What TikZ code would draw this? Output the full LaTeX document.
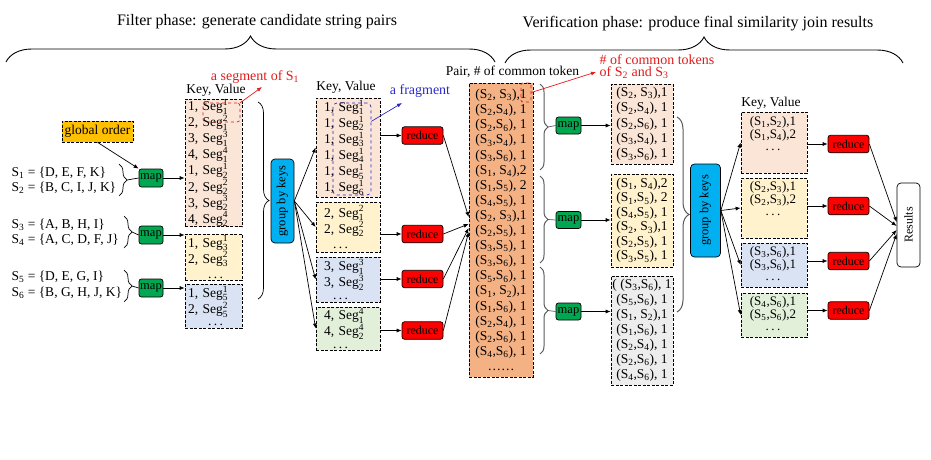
\documentclass[tikz,border=0pt]{standalone}
\usepackage{amsmath}
\usepackage{fontspec}
\setmainfont{Liberation Serif}
\usetikzlibrary{arrows.meta,decorations.pathreplacing}

\definecolor{peach}{HTML}{FBE5D6}
\definecolor{lyellow}{HTML}{FFF2CC}
\definecolor{lblue}{HTML}{DAE3F3}
\definecolor{lgreen}{HTML}{E2F0D9}
\definecolor{lgray}{HTML}{EDEDED}
\definecolor{pairorange}{HTML}{F4B183}
\definecolor{ordergold}{HTML}{FFC000}
\definecolor{mapgreen}{HTML}{00A650}
\definecolor{keyblue}{HTML}{00B0F0}
\definecolor{reducered}{HTML}{FF0000}
\definecolor{notered}{HTML}{E01B1B}
\definecolor{noteblue}{HTML}{2A2AC8}

\newcommand{\Sx}[1]{S\textsubscript{#1}}
\newcommand{\Sg}[2]{Seg$^{\text{#2}}_{\text{#1}}$}
\newcommand{\tdots}{.\hspace{2.5pt}.\hspace{2.5pt}.}

\begin{document}
\begin{tikzpicture}[x=1pt,y=-1pt,line width=0.7pt,>={Latex[length=5pt,width=4pt]},
	font=\fontsize{13.5}{15}\selectfont,
	kvbox/.style={draw,dash pattern=on 3pt off 1.5pt,inner sep=0pt},
	kvtxt/.style={inner sep=0pt,align=center,font=\fontsize{13}{12.5}\selectfont},
	mapbox/.style={draw,rounded corners=2.5pt,fill=mapgreen,inner sep=0pt,minimum width=24pt,minimum height=18pt,font=\fontsize{12.5}{14}\selectfont},
	reducebox/.style={draw,rounded corners=2.5pt,fill=reducered,inner sep=0pt,minimum width=41pt,minimum height=17.5pt,font=\fontsize{12}{14}\selectfont},
	keybox/.style={draw,rounded corners=4pt,fill=keyblue,inner sep=0pt,font=\fontsize{12.5}{14}\selectfont},
	brc/.style={decorate,decoration={brace,amplitude=#1}}]
	\useasboundingbox (0,0) rectangle (931,460);

	%%Phasen
	\node[font=\fontsize{16}{18}\selectfont] (filter) at (257,22) {Filter phase: generate candidate string pairs};
	\node[font=\fontsize{16}{18}\selectfont] (verif) at (698,24) {Verification phase: produce final similarity join results};
	\draw[brc=26pt,line width=0.9pt] (6,62) -- (495,62);
	\draw[brc=26pt,line width=0.9pt] (505,63) -- (903,63);

	%%Eingabe
	\node[anchor=west] (s1) at (8,173) {\Sx1 = \{D, E, F, K\}};
	\node[anchor=west] (s2) at (8,188) {\Sx2 = \{B, C, I, J, K\}};
	\node[anchor=west] (s3) at (8,225) {\Sx3 = \{A, B, H, I\}};
	\node[anchor=west] (s4) at (8,240) {\Sx4 = \{A, C, D, F, J\}};
	\node[anchor=west] (s5) at (8,277) {\Sx5 = \{D, E, G, I\}};
	\node[anchor=west] (s6) at (8,293) {\Sx6 = \{B, G, H, J, K\}};
	\draw[brc=8pt] (119,164) -- (119,196);
	\draw[brc=8pt] (124,216) -- (124,248);
	\draw[brc=8pt] (124,270) -- (124,302);
	\coordinate (b1) at (127,180);
	\coordinate (b2) at (132,232);
	\coordinate (b3) at (132,286);

	\node[kvbox,fill=ordergold,minimum width=71pt,minimum height=21pt] (gorder) at (97.5,131.5) {global order};

	%%Map 1
	\foreach \n/\y in {1/178,2/235,3/288}
		\node[mapbox] (map\n) at (151,\y) {map};
	\foreach \n in {1,2,3}
		\draw (b\n) -- (map\n.west);
	\draw[->] (gorder.south) -- (map1.north west);

	%%Key, Value 1
	\node (kvlab1) at (216,90) {Key, Value};
	\node[kvbox,fill=peach,text width=51pt,inner xsep=3pt,minimum height=124pt,align=left] (kv11) at (213.5,163)
		{1, \Sg11\\2, \Sg12\\3, \Sg13\\4, \Sg14\\1, \Sg21\\2, \Sg22\\3, \Sg23\\4, \Sg24};
	\node[kvbox,fill=lyellow,text width=51pt,inner xsep=3pt,minimum height=46pt,align=left] (kv12) at (213.5,257)
		{1, \Sg31\\2, \Sg32\\\hspace*{20pt}\tdots};
	\node[kvbox,fill=lblue,text width=51pt,inner xsep=3pt,minimum height=44pt,align=left,font=\fontsize{13.5}{12.5}\selectfont] (kv13) at (213.5,306)
		{1, \Sg51\\2, \Sg52\\\hspace*{20pt}\tdots};
	\draw[->] (map1.east) -- (kv11.west |- map1.east);
	\draw[->] (map2.east) -- (kv12.west |- map2.east);
	\draw[->] (map3.east) -- (kv13.west |- map3.east);

	\node[draw=notered,dashed,rounded corners=3pt,minimum width=37pt,minimum height=19pt,inner sep=0pt] (segbox) at (221.5,112.5) {};
	\node[notered,font=\fontsize{14}{16}\selectfont] (seglab) at (255,77) {a segment of \Sx1};
	\coordinate (segtip) at (262,87);
	\draw[notered,->] (segbox.north east) -- (segtip);

	%%Gruppierung 1
	\draw[brc=11pt] (258,102) -- (258,299);
	\node[keybox,minimum width=23pt,minimum height=84pt] (group1) at (282.5,201) {\rotatebox{90}{group by keys}};

	%%Key, Value 2
	\node (kvlab2) at (346,87) {Key, Value};
	\node[kvbox,fill=peach,text width=48pt,inner xsep=8pt,minimum height=99pt,align=left,font=\fontsize{13.5}{14.6}\selectfont] (kv21) at (348,147.5)
		{1, \Sg11\\1, \Sg21\\1, \Sg31\\1, \Sg41\\1, \Sg51\\1, \Sg61};
	\node[kvbox,fill=lyellow,text width=48pt,inner xsep=8pt,minimum height=50pt,align=left] (kv22) at (348,227)
		{2, \Sg12\\2, \Sg22\\\hspace*{9pt}\tdots};
	\node[kvbox,fill=lblue,text width=48pt,inner xsep=8pt,minimum height=45pt,align=left,font=\fontsize{13.5}{13}\selectfont] (kv23) at (348,279.5)
		{3, \Sg13\\3, \Sg23\\\hspace*{9pt}\tdots};
	\node[kvbox,fill=lgreen,text width=48pt,inner xsep=8pt,minimum height=43pt,align=left,font=\fontsize{13.5}{13}\selectfont] (kv24) at (348,328.5)
		{4, \Sg14\\4, \Sg24\\\hspace*{9pt}\tdots};
	\foreach \b in {kv21,kv22,kv23,kv24}
		\draw[->] (group1.east) -- (\b.west);

	\node[draw=noteblue,dashed,rounded corners=4pt,minimum width=38pt,minimum height=92pt,inner sep=0pt] (fragbox) at (352,149) {};
	\node[noteblue,font=\fontsize{14}{16}\selectfont] (fraglab) at (420,91) {a fragment};
	\coordinate (fragtip) at (402,103);
	\draw[noteblue,->] (fragbox.55) -- (fragtip);

	%%Reduce 1
	\foreach \n/\y in {1/135.5,2/234,3/279,4/330.5}
		\node[reducebox] (red\n) at (422.5,\y) {reduce};
	\foreach \b/\n in {kv21/1,kv22/2,kv23/3,kv24/4}
		\draw[->] (\b.east |- red\n.west) -- (red\n.west);

	%%Paare
	\node (pairlab) at (512.5,72) {Pair, \# of common token};
	\node[kvbox,fill=pairorange,minimum width=64pt,minimum height=294pt,align=center,font=\fontsize{13.5}{15.1}\selectfont] (pairs) at (501,230)
		{(\Sx2, \Sx3),1\\(\Sx2,\Sx4), 1\\(\Sx2,\Sx6), 1\\(\Sx3,\Sx4), 1\\(\Sx3,\Sx6), 1\\(\Sx1, \Sx4),2\\
		 (\Sx1,\Sx5), 2\\(\Sx4,\Sx5), 1\\(\Sx2, \Sx3),1\\(\Sx2,\Sx5), 1\\(\Sx3,\Sx5), 1\\(\Sx3,\Sx6), 1\\
		 (\Sx5,\Sx6), 1\\(\Sx1, \Sx2),1\\(\Sx1,\Sx6), 1\\(\Sx2,\Sx4), 1\\(\Sx2,\Sx6), 1\\(\Sx4,\Sx6), 1\\\ldots\ldots};
	\foreach \n/\s in {1/13,2/6,3/2,4/-2}
		\draw[->] (red\n.east) -- ([yshift=\s]pairs.west);

	\node[draw=notered,dashed,rounded corners=2pt,minimum width=10pt,minimum height=19pt,inner sep=0pt] (onebox) at (526,92.5) {};
	\node[notered,anchor=west,align=left,font=\fontsize{14}{11.5}\selectfont] (cntlab) at (596,66.5) {\# of common tokens\\of \Sx2 and \Sx3};
	\coordinate (cnttip) at (596,72);
	\draw[notered,->] (onebox.east) -- (cnttip);

	%%Map 2
	\draw[brc=8pt,black!65,line width=1pt] (540,84) -- (540,170);
	\draw[brc=8pt,black!65,line width=1pt] (540,176) -- (540,263);
	\draw[brc=8pt,black!65,line width=1pt] (540,267) -- (540,354);
	\coordinate (c1) at (548,127);
	\coordinate (c2) at (548,219.5);
	\coordinate (c3) at (548,310.5);
	\foreach \n/\y in {4/125.5,5/220,6/311.5}
		\node[mapbox,minimum width=25pt,minimum height=17pt] (map\n) at (568.5,\y) {map};
	\foreach \c/\n in {c1/4,c2/5,c3/6}
		\draw[black!65] (\c) -- (map\n.west);

	\node[kvbox,fill=peach,minimum width=62pt,minimum height=80pt,align=center,font=\fontsize{13.5}{15.3}\selectfont] (kvE) at (642,124)
		{(\Sx2, \Sx3),1\\(\Sx2,\Sx4), 1\\(\Sx2,\Sx6), 1\\(\Sx3,\Sx4), 1\\(\Sx3,\Sx6), 1};
	\node[kvbox,fill=lyellow,minimum width=62pt,minimum height=93pt,align=center,font=\fontsize{13.5}{14.5}\selectfont] (kvF) at (642,220.5)
		{(\Sx1, \Sx4),2\\(\Sx1,\Sx5), 2\\(\Sx4,\Sx5), 1\\(\Sx2, \Sx3),1\\(\Sx2,\Sx5), 1\\(\Sx3,\Sx5), 1};
	\node[kvbox,fill=lgray,minimum width=62pt,minimum height=109pt,align=center,font=\fontsize{13.5}{15}\selectfont] (kvG) at (642,330.5)
		{( (\Sx3,\Sx6), 1\\(\Sx5,\Sx6), 1\\(\Sx1, \Sx2),1\\(\Sx1,\Sx6), 1\\(\Sx2,\Sx4), 1\\(\Sx2,\Sx6), 1\\(\Sx4,\Sx6), 1};
	\draw[->] (map4.east) -- (kvE.west |- map4.east);
	\draw[->] (map5.east) -- (kvF.west |- map5.east);
	\draw[->] (map6.east) -- (kvG.west |- map6.east);

	%%Gruppierung 2
	\draw[brc=12pt,black!65,line width=1pt] (677,117) -- (677,312);
	\node[keybox,minimum width=30pt,minimum height=93pt] (group2) at (705.5,210.5) {\rotatebox{90}{group by keys}};

	%%Key, Value 3
	\node (kvlab3) at (771,103) {Key, Value};
	\node[kvbox,fill=peach,minimum width=66pt,minimum height=61pt] (kvH) at (774,142.5) {};
	\node[kvbox,fill=lyellow,minimum width=66pt,minimum height=60pt] (kvI) at (774,208) {};
	\node[kvbox,fill=lblue,minimum width=66pt,minimum height=44pt] (kvJ) at (774,265) {};
	\node[kvbox,fill=lgreen,minimum width=66pt,minimum height=44pt] (kvK) at (774,315) {};
	\node[kvtxt] (txtH) at (773,134) {(\Sx1,\Sx2),1\\(\Sx1,\Sx4),2\\\tdots};
	\node[kvtxt] (txtI) at (773,199) {(\Sx2,\Sx3),1\\(\Sx2,\Sx3),2\\\tdots};
	\node[kvtxt] (txtJ) at (773,264) {(\Sx3,\Sx6),1\\(\Sx3,\Sx6),1\\\tdots};
	\node[kvtxt] (txtK) at (773,314) {(\Sx4,\Sx6),1\\(\Sx5,\Sx6),2\\\tdots};
	\foreach \b in {kvH,kvI,kvJ,kvK}
		\draw[->] (group2.east) -- (\b.west);

	%%Reduce 2
	\foreach \n/\y in {5/144,6/206,7/261,8/310.5}
		\node[reducebox] (red\n) at (848.5,\y) {reduce};
	\foreach \b/\n in {kvH/5,kvI/6,kvJ/7,kvK/8}
		\draw[->] (\b.east |- red\n.west) -- (red\n.west);

	\node[draw,fill=white,rounded corners=4pt,inner sep=0pt,minimum width=23pt,minimum height=84pt,font=\fontsize{12}{14}\selectfont] (results) at (908.5,225) {\rotatebox{90}{Results}};
	\foreach \n/\s in {5/3,6/-1,7/-5,8/-9}
		\draw[->] (red\n.east) -- ([yshift=\s]results.west);
\end{tikzpicture}
\end{document}
